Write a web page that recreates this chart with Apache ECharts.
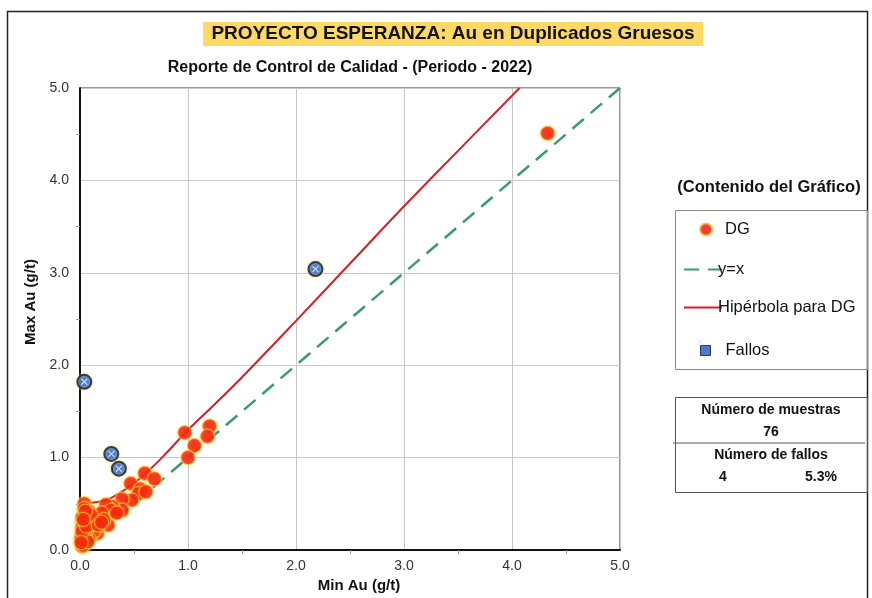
<!DOCTYPE html>
<html>
<head>
<meta charset="utf-8">
<script src="https://cdn.jsdelivr.net/npm/echarts@6/dist/echarts.min.js"></script>
<style>
	html, body { margin: 0; padding: 0; background: #fff; }
	#chart { width: 872px; height: 598px; }
</style>
</head>
<body>
<div id="chart"></div>
<script>
	// datos (Min Au, Max Au)
	var dgData = [
		[4.33,4.51],[1.20,1.34],[1.18,1.23],[1.06,1.13],[1.00,1.00],[0.97,1.27],
		[0.60,0.83],[0.69,0.77],[0.47,0.72],[0.56,0.66],[0.54,0.61],[0.61,0.63],
		[0.48,0.54],[0.39,0.55],[0.39,0.43],[0.30,0.47],[0.24,0.49],[0.29,0.43],
		[0.04,0.50],[0.04,0.40],[0.18,0.34],[0.26,0.27],[0.16,0.18],[0.14,0.30],
		[0.07,0.20],[0.04,0.07],[0.03,0.14],[0.10,0.27],[0.12,0.36],[0.20,0.40],
		[0.08,0.33],[0.05,0.25],[0.03,0.30],[0.06,0.12],[0.10,0.15],[0.02,0.04],
		[0.03,0.22],[0.08,0.42],[0.15,0.24],[0.22,0.33],[0.34,0.40],[0.04,0.36],
		[0.02,0.10],[0.05,0.18],[0.03,0.28],[0.06,0.32],[0.02,0.17],[0.09,0.23],
		[0.05,0.09],[0.07,0.29],[0.11,0.19],[0.04,0.45],[0.02,0.35],[0.06,0.38],
		[0.13,0.21],[0.03,0.05],[0.08,0.13],[0.01,0.12],[0.05,0.15],[0.02,0.24],
		[0.04,0.19],[0.09,0.34],[0.12,0.28],[0.07,0.09],[0.02,0.20],[0.06,0.26],
		[0.01,0.08],[0.10,0.38],[0.05,0.42],[0.03,0.33],[0.17,0.27],[0.20,0.30]
	]
	var fallosData = [[0.04,1.82],[0.29,1.04],[0.36,0.88],[2.18,3.04]]
	var identidadData = [[0,0],[5,5]]
	// puntos leidos sobre la curva roja
	var hiperbolaData = [
		[0,0.50],[0.1,0.51],[0.2,0.53],[0.3,0.57],[0.45,0.68],[0.6,0.82],
		[0.8,1.05],[1.0,1.30],[1.25,1.58],[1.5,1.87],[2.0,2.48],[2.5,3.10],
		[3.0,3.72],[3.5,4.32],[4.07,5.0]
	]
	var axisTicks = ['0.0','1.0','2.0','3.0','4.0','5.0']
	var numMuestras = 76
	var numFallos = 4
	var pctFallos = '5.3%'

	var font = 'Liberation Sans, Arial, sans-serif'
	var chartInstance = echarts.init(document.getElementById('chart'))

	var axisBase = {
		type: 'value',
		min: 0,
		max: 5,
		interval: 1,
		axisLine: { show: true, onZero: false, lineStyle: { color: '#111', width: 2 } },
		axisTick: { show: false },
		minorTick: { show: true, splitNumber: 2, length: 4, lineStyle: { color: '#999' } },
		splitLine: { show: true, lineStyle: { color: '#c8c8c8', width: 1 } },
		axisLabel: {
			color: '#333', fontSize: 14, fontFamily: font,
			formatter: function (v) { return axisTicks[Math.round(v)] }
		},
		nameLocation: 'middle'
	}

	var legendText = { color: '#111', fontSize: 16.5, fontFamily: font }

	function texto(x, y, t, size, align) {
		return { type: 'text', x: x, y: y, silent: true,
			style: { text: t, fill: '#111', font: 'bold ' + size + 'px ' + font,
				textAlign: align || 'center', textVerticalAlign: 'middle' } }
	}

	var initOption = {
		animation: false,
		backgroundColor: '#fff',
		grid: {
			left: 80, right: 252, top: 88, bottom: 47,
			show: true, borderColor: '#333', borderWidth: 1, backgroundColor: 'transparent'
		},
		xAxis: Object.assign({}, axisBase, {
			name: 'Min Au (g/t)', nameGap: 28,
			nameTextStyle: { color: '#111', fontSize: 15, fontWeight: 'bold', fontFamily: font,
				padding: [0, 0, 0, 18] },
			axisLabel: Object.assign({}, axisBase.axisLabel, { margin: 9 })
		}),
		yAxis: Object.assign({}, axisBase, {
			name: 'Max Au (g/t)', nameGap: 42,
			nameTextStyle: { color: '#111', fontSize: 15, fontWeight: 'bold', fontFamily: font,
				padding: [0, 0, 0, 34] },
			axisLabel: Object.assign({}, axisBase.axisLabel, { margin: 11 })
		}),
		legend: [
			{
				left: 694, top: 216, itemWidth: 12, itemHeight: 12,
				textStyle: Object.assign({ padding: [0, 0, 0, 8] }, legendText),
				data: [{ name: 'DG', icon: 'circle' }]
			},
			{
				orient: 'vertical', left: 678, top: 256,
				itemWidth: 38, itemHeight: 12, itemGap: 21,
				textStyle: Object.assign({ padding: [0, 0, 0, -9] }, legendText),
				data: [
					{ name: 'y=x', itemStyle: { opacity: 0 } },
					{ name: 'Hipérbola para DG', itemStyle: { opacity: 0 } }
				]
			},
			{
				left: 695, top: 337, itemWidth: 10, itemHeight: 10,
				textStyle: Object.assign({ padding: [0, 0, 0, 10] }, legendText),
				data: [{ name: 'Fallos', icon: 'rect',
					itemStyle: { color: '#2456c8', borderColor: '#0b1a3e', borderWidth: 1 } }]
			}
		],
		graphic: [
			{ type: 'rect', left: 5, top: 9, shape: { width: 860, height: 600 },
				style: { fill: 'none', stroke: '#222', lineWidth: 1.5 }, silent: true },
			{ type: 'rect', left: 203, top: 22, shape: { width: 500, height: 24 },
				style: { fill: '#FFD966' }, z: -1 },
			texto(453, 34, 'PROYECTO ESPERANZA: Au en Duplicados Gruesos', 19),
			texto(350, 68, 'Reporte de Control de Calidad - (Periodo - 2022)', 16),
			texto(769, 187, '(Contenido del Gráfico)', 16.5),
			{ type: 'rect', left: 673, top: 208, shape: { width: 192, height: 159 },
				style: { fill: 'none', stroke: '#888', lineWidth: 1 } },
			// cruz del icono de Fallos
			{ type: 'line', shape: { x1: 697, y1: 339, x2: 703, y2: 345 },
				style: { stroke: '#e8f0ff', lineWidth: 1.2 }, z: 100 },
			{ type: 'line', shape: { x1: 703, y1: 339, x2: 697, y2: 345 },
				style: { stroke: '#e8f0ff', lineWidth: 1.2 }, z: 100 },
			{ type: 'rect', left: 673, top: 395, shape: { width: 192, height: 95 },
				style: { fill: 'none', stroke: '#555', lineWidth: 1 } },
			{ type: 'line', shape: { x1: 673, y1: 443, x2: 865, y2: 443 },
				style: { stroke: '#555', lineWidth: 1 } },
			texto(771, 410, 'Número de muestras', 14),
			texto(771, 432, String(numMuestras), 14),
			texto(771, 455, 'Número de fallos', 14),
			texto(723, 477, String(numFallos), 14),
			texto(821, 477, pctFallos, 14)
		],
		series: [
			{
				name: 'y=x', type: 'line', data: identidadData, symbol: 'none',
				lineStyle: { color: '#3b9a6e', width: 2.5, type: [15, 9] },
				itemStyle: { color: '#3b9a6e' }, z: 2
			},
			{
				name: 'Hipérbola para DG', type: 'line', data: hiperbolaData, symbol: 'none',
				smooth: 0.4,
				lineStyle: { color: '#d0202a', width: 2 },
				itemStyle: { color: '#d0202a' }, z: 3
			},
			{
				name: 'DG', type: 'scatter', data: dgData, symbolSize: 14,
				itemStyle: {
					color: '#f40c08', borderColor: '#f7c238', borderWidth: 1,
					shadowBlur: 3, shadowColor: 'rgba(250,210,60,0.7)'
				},
				z: 4
			},
			{
				name: 'Fallos', type: 'scatter', data: fallosData, symbolSize: 14,
				itemStyle: {
					color: '#1f5fe8', borderColor: '#0b1a3e', borderWidth: 2,
					shadowBlur: 3, shadowColor: 'rgba(250,210,60,0.9)'
				},
				z: 5
			},
			{
				// cruz blanca sobre los fallos
				name: 'Fallos', type: 'scatter', data: fallosData, symbolSize: 6,
				symbol: 'path://M0,0L10,10M10,0L0,10',
				itemStyle: { color: 'none', borderColor: '#e8f0ff', borderWidth: 1.3 },
				legendHoverLink: false, z: 6
			}
		]
	}
	chartInstance.setOption(initOption)
</script>
</body>
</html>
